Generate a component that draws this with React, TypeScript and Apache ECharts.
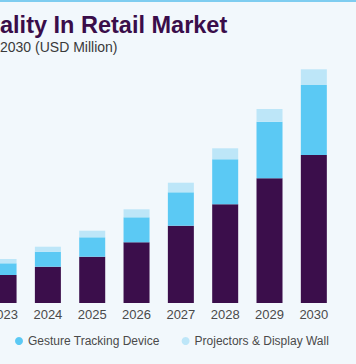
import React, { useEffect, useRef } from "react";
import * as echarts from "echarts";

const years = ["2023", "2024", "2025", "2026", "2027", "2028", "2029", "2030"];
const headMounted = [280, 363, 463, 607, 773, 987, 1247, 1480];
const gestureTracking = [117, 150, 194, 250, 334, 450, 566, 700];
const projectorsDisplay = [43, 50, 66, 80, 96, 110, 127, 157];
const seriesNames = ["Head-mounted Display", "Gesture Tracking Device", "Projectors & Display Wall"];
const titleText = "U.S. Virtual Reality In Retail Market";
const subtitleText = "size, by device, 2018 - 2030 (USD Million)";

const FONT = "'Liberation Sans', Arial, sans-serif";
const HIDDEN = 170; // part of the chart to the left of the visible window
const VIEW_W = 356;
const VIEW_H = 364;

function measure(text: string, font: string): number {
  const c = document.createElement("canvas");
  const ctx = c.getContext("2d");
  if (!ctx) return 0;
  ctx.font = font;
  return ctx.measureText(text).width;
}

export default function App() {
  const ref = useRef<HTMLDivElement>(null);
  useEffect(() => {
    if (!ref.current) return;
    const chart = echarts.init(ref.current, undefined, { renderer: "svg" });
    const titleSize = 23.5;
    const subSize = 14;
    const legSize = 12;
    const titleX = HIDDEN - measure("U.S. Virtual Re", `bold ${titleSize}px ${FONT}`);
    const subX = HIDDEN - measure("size, by device, 2018 - ", `${subSize}px ${FONT}`);
    const firstItemW = 8 + 5 + measure(seriesNames[0], `${legSize}px ${FONT}`) + 22;
    const legendLeft = HIDDEN + 15 - firstItemW;
    const W = VIEW_W + HIDDEN;
    chart.setOption({
      animation: false,
      backgroundColor: "#f2f8fc",
      graphic: [
        { type: "rect", x: 0, y: 0, shape: { width: W, height: 2 }, style: { fill: "#7fcdf0" } },
        {
          type: "text",
          x: titleX,
          y: 25,
          style: {
            text: titleText,
            fill: "#3a0d4a",
            font: `bold ${titleSize}px ${FONT}`,
            verticalAlign: "middle",
            align: "left",
          },
        },
        {
          type: "text",
          x: subX,
          y: 47,
          style: {
            text: subtitleText,
            fill: "#3a3a3a",
            font: `${subSize}px ${FONT}`,
            verticalAlign: "middle",
            align: "left",
          },
        },
      ],
      legend: {
        data: seriesNames,
        left: legendLeft,
        top: 334,
        width: 600,
        padding: 0,
        itemGap: 22,
        itemWidth: 8,
        itemHeight: 8,
        icon: "circle",
        textStyle: { fontSize: legSize, fontFamily: FONT, color: "#4a4a4a", lineHeight: 14 },
      },
      grid: { left: HIDDEN - 18.6, right: 20, top: 63, bottom: 61 },
      xAxis: {
        type: "category",
        data: years,
        axisLine: { show: false },
        axisTick: { show: false },
        axisLabel: { fontSize: 13, fontFamily: FONT, color: "#4a4a4a", margin: 5 },
      },
      yAxis: { type: "value", min: 0, max: 2400, show: false, splitLine: { show: false } },
      series: [
        { name: seriesNames[0], type: "bar", stack: "a", data: headMounted, barWidth: 26, itemStyle: { color: "#3b0e4b" } },
        { name: seriesNames[1], type: "bar", stack: "a", data: gestureTracking, barWidth: 26, itemStyle: { color: "#5bc9f4" } },
        { name: seriesNames[2], type: "bar", stack: "a", data: projectorsDisplay, barWidth: 26, itemStyle: { color: "#bde6f8" } },
      ],
    });
    return () => chart.dispose();
  }, []);
  return (
    <div
      style={{
        position: "fixed",
        left: 0,
        top: 0,
        width: VIEW_W,
        height: VIEW_H,
        overflow: "hidden",
        background: "#f2f8fc",
      }}
    >
      <div
        ref={ref}
        style={{ position: "absolute", left: -HIDDEN, top: 0, width: VIEW_W + HIDDEN, height: VIEW_H }}
      />
    </div>
  );
}
